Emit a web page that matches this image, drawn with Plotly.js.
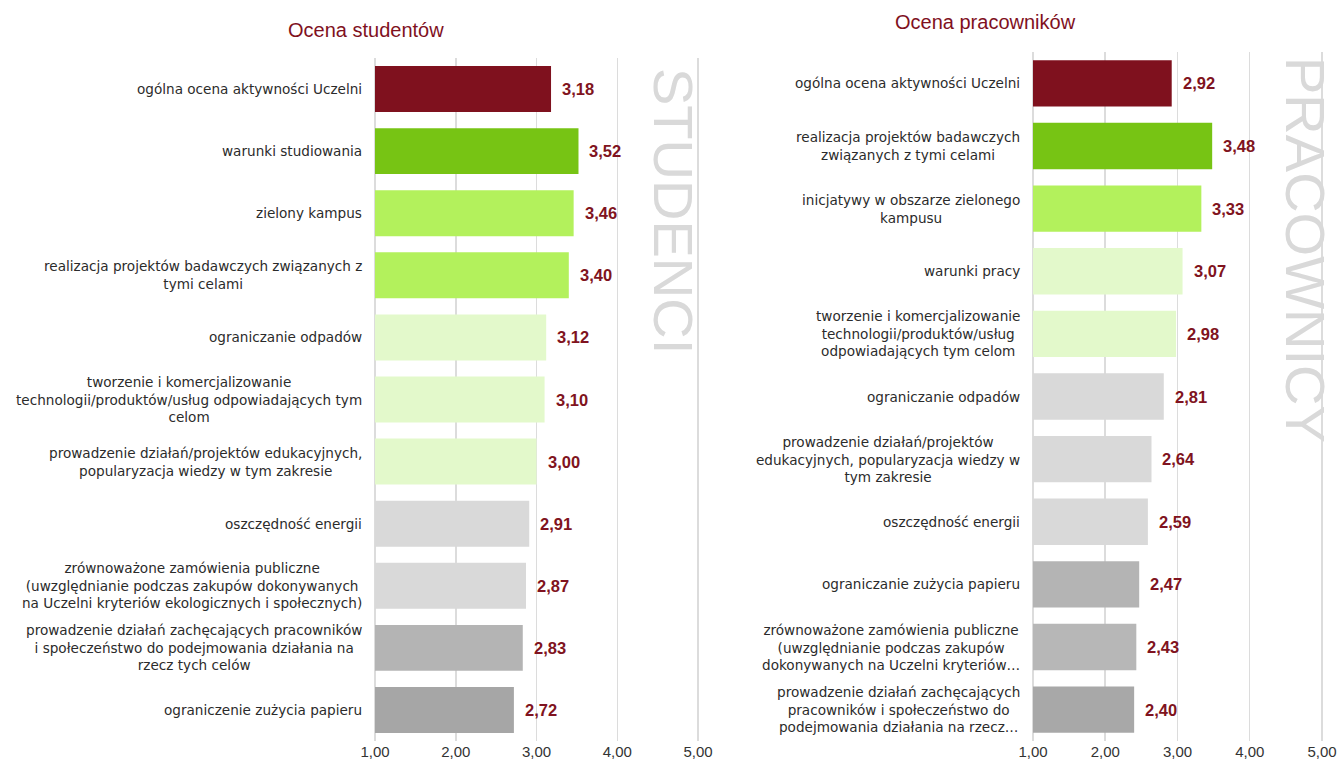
<!DOCTYPE html>
<html>
<head>
<meta charset="utf-8">
<script src="https://cdn.plot.ly/plotly-3.0.1.min.js"></script>
<style>html,body{margin:0;padding:0;background:#fff;}#chart{width:1339px;height:768px;}</style>
</head>
<body>
<div id="chart"></div>
<script>
// ---- data ----
const studentLabels = [
  "ogólna ocena aktywności Uczelni",
  "warunki studiowania",
  "zielony kampus",
  "realizacja projektów badawczych związanych z<br>tymi celami",
  "ograniczanie odpadów",
  "tworzenie i komercjalizowanie<br>technologii/produktów/usług odpowiadających tym<br>celom",
  "prowadzenie działań/projektów edukacyjnych,<br>popularyzacja wiedzy w tym zakresie",
  "oszczędność energii",
  "zrównoważone zamówienia publiczne<br>(uwzględnianie podczas zakupów dokonywanych<br>na Uczelni kryteriów ekologicznych i społecznych)",
  "prowadzenie działań zachęcających pracowników<br>i społeczeństwo do podejmowania działania na<br>rzecz tych celów",
  "ograniczenie zużycia papieru"
];
const studentValues = [3.18, 3.52, 3.46, 3.40, 3.12, 3.10, 3.00, 2.91, 2.87, 2.83, 2.72];

const staffLabels = [
  "ogólna ocena aktywności Uczelni",
  "realizacja projektów badawczych<br>związanych z tymi celami",
  "inicjatywy w obszarze zielonego<br>kampusu",
  "warunki pracy",
  "tworzenie i komercjalizowanie<br>technologii/produktów/usług<br>odpowiadających tym celom",
  "ograniczanie odpadów",
  "prowadzenie działań/projektów<br>edukacyjnych, popularyzacja wiedzy w<br>tym zakresie",
  "oszczędność energii",
  "ograniczanie zużycia papieru",
  "zrównoważone zamówienia publiczne<br>(uwzględnianie podczas zakupów<br>dokonywanych na Uczelni kryteriów…",
  "prowadzenie działań zachęcających<br>pracowników i społeczeństwo do<br>podejmowania działania na rzecz…"
];
const staffValues = [2.92, 3.48, 3.33, 3.07, 2.98, 2.81, 2.64, 2.59, 2.47, 2.43, 2.40];

const tickValues = [1, 2, 3, 4, 5];
const tickLabels = ["1,00", "2,00", "3,00", "4,00", "5,00"];

const panelTitles = ["Ocena studentów", "Ocena pracowników"];
const sideLabels = ["STUDENCI", "PRACOWNICY"];

// ---- styles ----
const studentColors = ["#7f111e", "#77c414", "#b3f15c", "#b3f15c", "#e3f9cb", "#e3f9cb", "#e3f9cb",
                       "#d9d9d9", "#d9d9d9", "#b4b4b4", "#a6a6a6"];
const staffColors = ["#7f111e", "#77c414", "#b3f15c", "#e3f9cb", "#e3f9cb", "#d9d9d9", "#d9d9d9",
                     "#d9d9d9", "#b4b4b4", "#b7b7b7", "#a8a8a8"];
const RED = "#7f111e";
const W = 1339, H = 768;

const fmt = v => v.toFixed(2).replace('.', ',');

const traces = [
  {type: 'bar', orientation: 'h', x: studentValues, y: studentLabels, xaxis: 'x', yaxis: 'y',
   base: 1, marker: {color: studentColors}, hoverinfo: 'x+y'},
  {type: 'bar', orientation: 'h', x: staffValues, y: staffLabels, xaxis: 'x2', yaxis: 'y2',
   base: 1, marker: {color: staffColors}, hoverinfo: 'x+y'}
];
// bars start at the axis origin 1,00: width = value - 1
traces[0].x = studentValues.map(v => v - 1);
traces[1].x = staffValues.map(v => v - 1);

const annotations = [];
function panelAnn(labels, values, xr, yr, lblShift) {
  labels.forEach((l, i) => {
    annotations.push({xref: xr, yref: yr, x: 1, y: l, text: l, showarrow: false,
      xanchor: 'right', align: 'center', xshift: lblShift,
      font: {family: 'DejaVu Sans', size: 13.6, color: '#2b2b2b'}});
    annotations.push({xref: xr, yref: yr, x: values[i], y: l, text: fmt(values[i]), showarrow: false,
      xanchor: 'left', xshift: 9,
      font: {family: 'Liberation Sans, Arial', size: 16.5, color: '#801320', weight: 'bold'}});
  });
}
panelAnn(studentLabels, studentValues, 'x', 'y', -11);
panelAnn(staffLabels, staffValues, 'x2', 'y2', -11);

annotations.push({xref: 'paper', yref: 'paper', x: 366.5 / W, y: 1 - 30 / H, text: panelTitles[0],
  showarrow: false, xanchor: 'center', yanchor: 'middle',
  font: {family: 'Liberation Sans, Arial', size: 20, color: RED}});
annotations.push({xref: 'paper', yref: 'paper', x: 985.5 / W, y: 1 - 22 / H, text: panelTitles[1],
  showarrow: false, xanchor: 'center', yanchor: 'middle',
  font: {family: 'Liberation Sans, Arial', size: 20, color: RED}});
annotations.push({xref: 'paper', yref: 'paper', x: 673 / W, y: 1 - 211 / H, text: sideLabels[0],
  showarrow: false, xanchor: 'center', yanchor: 'middle', textangle: 90,
  font: {family: 'Liberation Sans, Arial', size: 56, color: '#d9d9d9'}});
annotations.push({xref: 'paper', yref: 'paper', x: 1305 / W, y: 1 - 250 / H, text: sideLabels[1],
  showarrow: false, xanchor: 'center', yanchor: 'middle', textangle: 90,
  font: {family: 'Liberation Sans, Arial', size: 56, color: '#d9d9d9'}});

const xcommon = {
  range: [0.9, 5.1], tickvals: tickValues, ticktext: tickLabels,
  showgrid: true, gridcolor: '#dcdcdc', gridwidth: 1.5, zeroline: false, showline: false,
  ticks: '', fixedrange: true, automargin: false,
  tickfont: {family: 'Liberation Sans, Arial', size: 15, color: '#333'}
};
const ycommon = {
  type: 'category', autorange: 'reversed', showticklabels: false, showgrid: false,
  zeroline: false, ticks: '', automargin: false, fixedrange: true
};

// pixel positions of 1,00 and 5,00 on each panel
const L1 = 375, L5 = 698, R1 = 1033, R5 = 1322;
const lu = (L5 - L1) / 4, ru = (R5 - R1) / 4;

const layout = {
  width: W, height: H,
  margin: {l: 0, r: 0, t: 0, b: 0},
  paper_bgcolor: '#fff', plot_bgcolor: 'rgba(0,0,0,0)',
  showlegend: false,
  bargap: 0.26,
  xaxis: Object.assign({}, xcommon, {domain: [(L1 - 0.1 * lu) / W, (L5 + 0.1 * lu) / W], anchor: 'y'}),
  yaxis: Object.assign({}, ycommon, {domain: [1 - 741 / H, 1 - 58 / H], anchor: 'x'}),
  xaxis2: Object.assign({}, xcommon, {domain: [(R1 - 0.1 * ru) / W, (R5 + 0.1 * ru) / W], anchor: 'y2'}),
  yaxis2: Object.assign({}, ycommon, {domain: [1 - 741 / H, 1 - 52 / H], anchor: 'x2'}),
  annotations: annotations
};

Plotly.newPlot('chart', traces, layout, {displayModeBar: false, staticPlot: true});
</script>
</body>
</html>
